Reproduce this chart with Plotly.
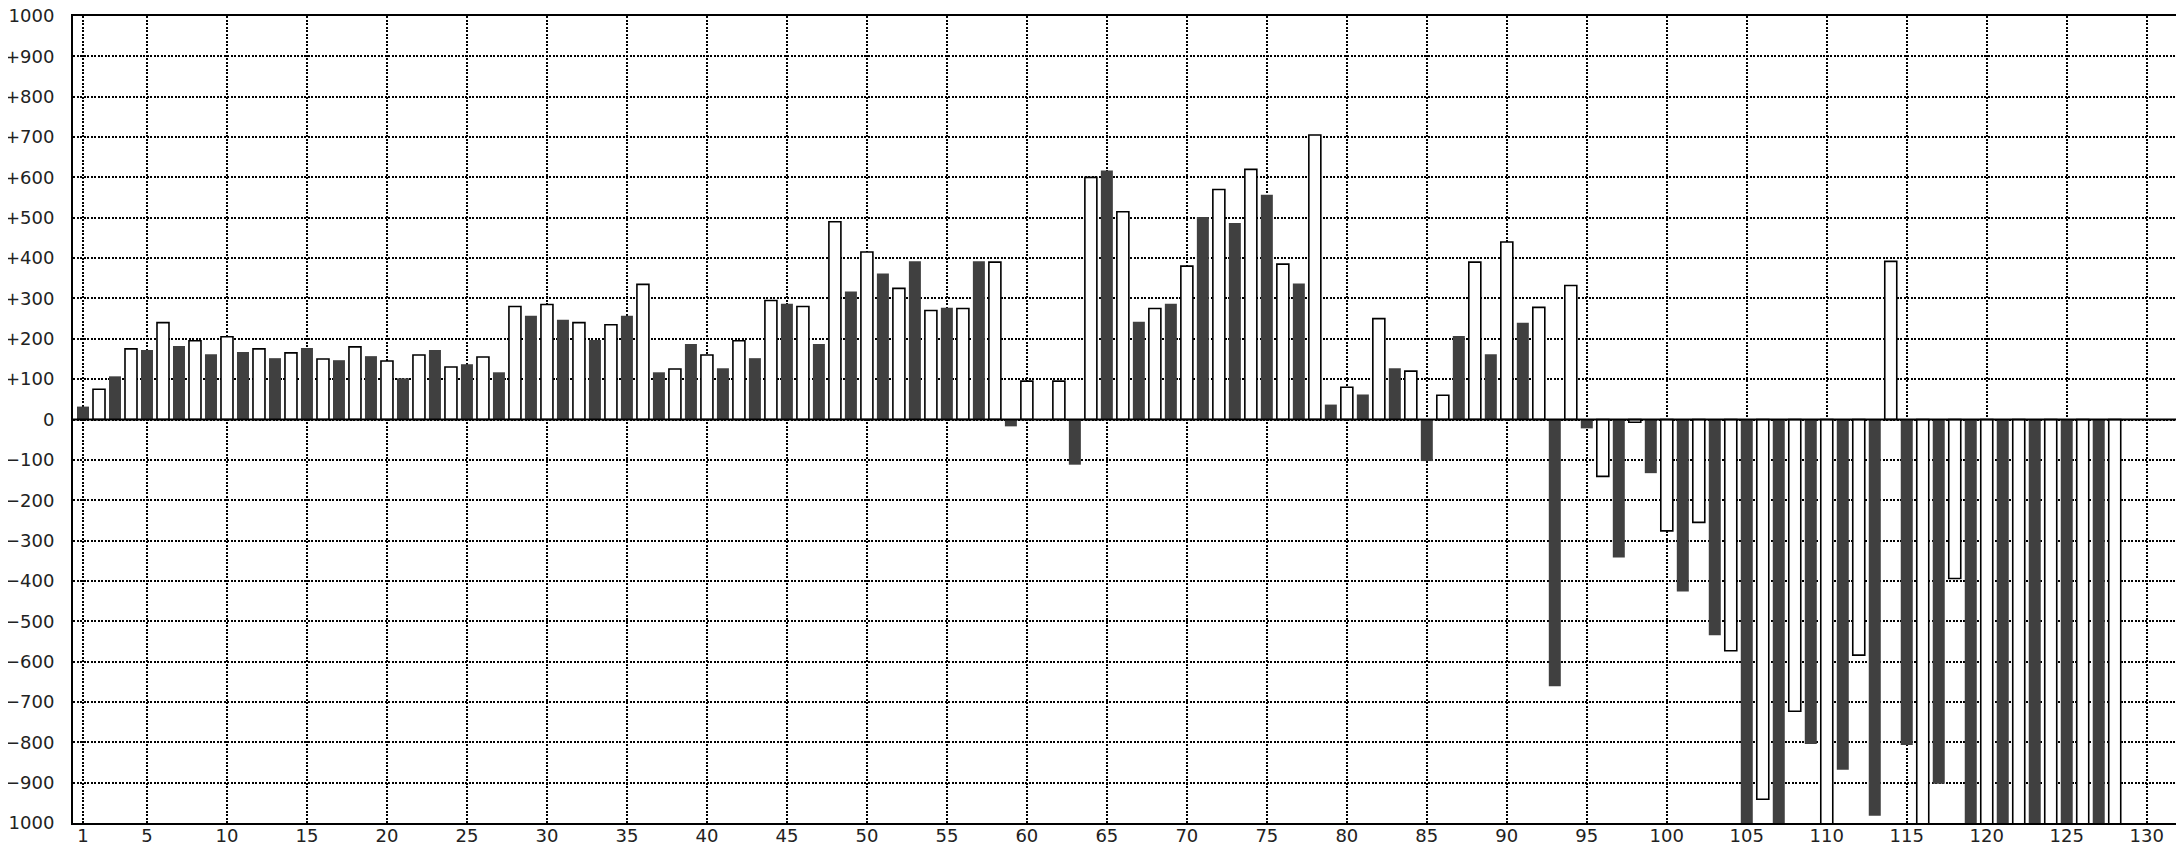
import plotly.graph_objects as go

# Categories (1..128); dark bars on odd categories, white bars on even categories
dark_categories = list(range(1, 129, 2))
dark_values = [
    32, 107, 172, 182, 162, 167, 152, 177, 147, 157,
    102, 172, 137, 117, 257, 247, 197, 257, 117, 187,
    127, 152, 287, 187, 317, 362, 392, 277, 392, -17,
    0, -112, 617, 242, 287, 502, 487, 557, 337, 37,
    62, 127, -103, 207, 162, 240, -661, -22, -342, -133,
    -426, -535, -1100, -1100, -804, -868, -982, -807, -903, -1100,
    -1100, -1100, -1100, -1100,
]

white_categories = list(range(2, 129, 2))
white_values = [
    75, 175, 240, 195, 205, 175, 165, 150, 180, 145,
    160, 130, 155, 280, 285, 240, 235, 335, 125, 160,
    195, 295, 280, 490, 415, 325, 270, 275, 390, 95,
    95, 600, 515, 275, 380, 570, 620, 385, 705, 80,
    250, 120, 60, 390, 440, 278, 332, -141, -7, -276,
    -255, -573, -941, -723, -1100, -584, 392, -1100, -394, -1100,
    -1100, -1100, -1100, -1100,
]

x_tick_values = [1] + list(range(5, 131, 5))
x_tick_labels = [str(v) for v in x_tick_values]

y_tick_values = list(range(-1000, 1001, 100))
y_tick_labels = [("+" + str(v)) if v > 0 else ("0" if v == 0 else "\u2212" + str(-v)) for v in y_tick_values]

fig = go.Figure()
fig.add_trace(go.Bar(
    x=dark_categories, y=dark_values, width=0.75,
    marker=dict(color="#404040", line=dict(width=0)),
    showlegend=False,
))
fig.add_trace(go.Bar(
    x=white_categories, y=white_values, width=0.75,
    marker=dict(color="#ffffff", line=dict(color="#000000", width=1.6)),
    showlegend=False,
))

fig.add_shape(type="line", xref="paper", yref="y", x0=0, x1=1, y0=0, y1=0,
              line=dict(color="#000000", width=2), layer="above")

font = dict(family="DejaVu Sans", size=18, color="#222222")

# The page body adds an 8px offset, so the figure is 8px smaller on each side.
fig.update_layout(
    template="none",
    width=2176, height=834,
    margin=dict(l=65, r=0, t=8, b=19, pad=0, autoexpand=False),
    paper_bgcolor="#ffffff", plot_bgcolor="#ffffff",
    barmode="overlay",
    font=font,
    xaxis=dict(
        range=[0.375, 132.33], automargin=False,
        tickmode="array", tickvals=x_tick_values, ticktext=x_tick_labels,
        showgrid=True, gridcolor="#000000", gridwidth=1.5, griddash="2px,1.5px",
        zeroline=False,
        showline=True, linecolor="#000000", linewidth=2, mirror=True,
        ticks="", tickfont=font, ticklabelstandoff=-5, ticklabeloverflow="allow",
        fixedrange=True,
    ),
    yaxis=dict(
        range=[-1000, 1000], automargin=False,
        tickmode="array", tickvals=y_tick_values, ticktext=y_tick_labels,
        showgrid=True, gridcolor="#000000", gridwidth=1.5, griddash="2px,1.5px",
        zeroline=False,
        showline=True, linecolor="#000000", linewidth=2,
        ticks="", tickfont=font, ticklabelstandoff=13, ticklabeloverflow="allow",
        fixedrange=True,
    ),
)

fig.write_html("out.html")
